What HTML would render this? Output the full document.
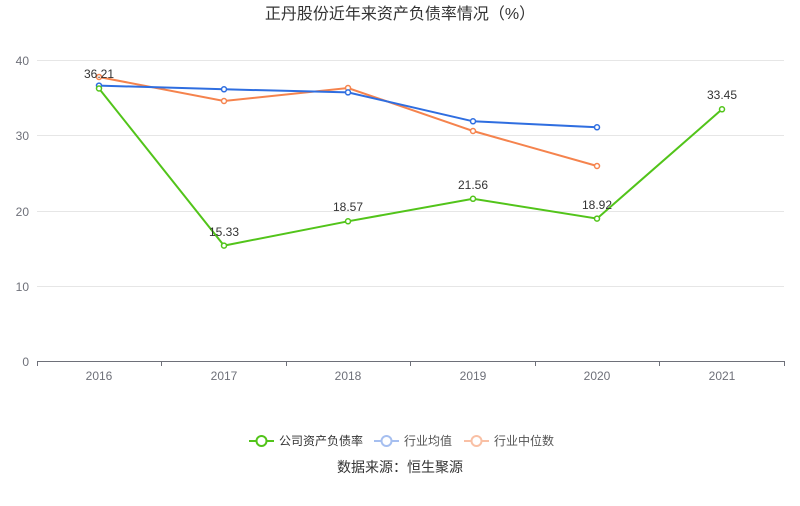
<!DOCTYPE html>
<html><head><meta charset="utf-8"><style>
body{margin:0;background:#fff;}
svg text{font-family:"Liberation Sans","Noto Sans CJK SC",sans-serif;}
</style></head><body>
<svg width="800" height="501" viewBox="0 0 800 501" xmlns="http://www.w3.org/2000/svg">
<text x="400" y="19" text-anchor="middle" font-size="16" fill="#333">正丹股份近年来资产负债率情况（%）</text>
<g stroke="#e6e6e6" stroke-width="1">
<line x1="37" y1="60.5" x2="784" y2="60.5"/>
<line x1="37" y1="135.5" x2="784" y2="135.5"/>
<line x1="37" y1="211.5" x2="784" y2="211.5"/>
<line x1="37" y1="286.5" x2="784" y2="286.5"/>
</g>
<line x1="37" y1="361.5" x2="784" y2="361.5" stroke="#6e7079"/>
<g stroke="#6e7079">
<line x1="37.5" y1="361" x2="37.5" y2="366"/><line x1="161.5" y1="361" x2="161.5" y2="366"/><line x1="286.5" y1="361" x2="286.5" y2="366"/><line x1="410.5" y1="361" x2="410.5" y2="366"/><line x1="535.5" y1="361" x2="535.5" y2="366"/><line x1="659.5" y1="361" x2="659.5" y2="366"/><line x1="784.5" y1="361" x2="784.5" y2="366"/>
</g>
<g font-size="12" fill="#6e7079" text-anchor="end">
<text x="29" y="65">40</text><text x="29" y="140">30</text><text x="29" y="216">20</text><text x="29" y="291">10</text><text x="29" y="366">0</text>
</g>
<g font-size="12" fill="#6e7079" text-anchor="middle">
<text x="99" y="380">2016</text><text x="224" y="380">2017</text><text x="348" y="380">2018</text><text x="473" y="380">2019</text><text x="597" y="380">2020</text><text x="722" y="380">2021</text>
</g>
<polyline fill="none" stroke="#f5834d" stroke-width="2" points="99,77 224,101 348,88 473,131 597,166"/>
<polyline fill="none" stroke="#2f6ee0" stroke-width="2" points="99,85.6 224,89.3 348,92.4 473,121.3 597,127.3"/>
<polyline fill="none" stroke="#52c41a" stroke-width="2" points="99,88.5 224,245.6 348,221.3 473,198.8 597,218.6 722,109.3"/>
<g fill="#fff" stroke-width="1.5">
<g stroke="#f5834d"><circle cx="99" cy="77" r="2.5"/><circle cx="224" cy="101" r="2.5"/><circle cx="348" cy="88" r="2.5"/><circle cx="473" cy="131" r="2.5"/><circle cx="597" cy="166" r="2.5"/></g>
<g stroke="#2f6ee0"><circle cx="99" cy="85.6" r="2.5"/><circle cx="224" cy="89.3" r="2.5"/><circle cx="348" cy="92.4" r="2.5"/><circle cx="473" cy="121.3" r="2.5"/><circle cx="597" cy="127.3" r="2.5"/></g>
<g stroke="#52c41a"><circle cx="99" cy="88.5" r="2.5"/><circle cx="224" cy="245.6" r="2.5"/><circle cx="348" cy="221.3" r="2.5"/><circle cx="473" cy="198.8" r="2.5"/><circle cx="597" cy="218.6" r="2.5"/><circle cx="722" cy="109.3" r="2.5"/></g>
</g>
<g font-size="12" fill="#333" text-anchor="middle">
<text x="99" y="78">36.21</text><text x="224" y="236">15.33</text><text x="348" y="211">18.57</text><text x="473" y="189">21.56</text><text x="597" y="209">18.92</text><text x="722" y="99">33.45</text>
</g>
<g font-size="12" fill="#333">
<line x1="249" y1="441" x2="274" y2="441" stroke="#52c41a" stroke-width="2"/><circle cx="261.5" cy="441" r="5" fill="#fff" stroke="#52c41a" stroke-width="2"/>
<text x="279" y="445">公司资产负债率</text>
<line x1="374" y1="441" x2="399" y2="441" stroke="#a6bff0" stroke-width="2"/><circle cx="386.5" cy="441" r="5" fill="#fff" stroke="#a6bff0" stroke-width="2"/>
<text x="404" y="445" fill="#555">行业均值</text>
<line x1="464" y1="441" x2="489" y2="441" stroke="#f9c0a5" stroke-width="2"/><circle cx="476.5" cy="441" r="5" fill="#fff" stroke="#f9c0a5" stroke-width="2"/>
<text x="494" y="445" fill="#555">行业中位数</text>
</g>
<text x="400" y="472" text-anchor="middle" font-size="14" fill="#333">数据来源：恒生聚源</text>
</svg>
</body></html>
